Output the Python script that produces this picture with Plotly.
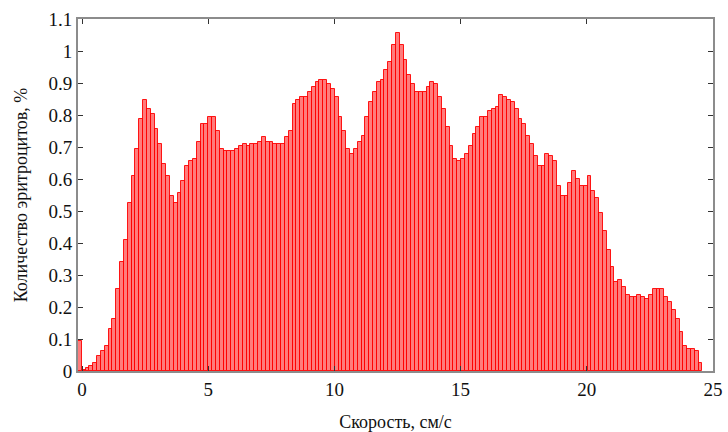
import numpy as np
import plotly.graph_objects as go

# Histogram of erythrocyte velocities: bin start, bin width and percentages per bin
BIN_START = -0.16
BIN_WIDTH = 0.1518
percent = [
    0.093, 0.004, 0.008, 0.016, 0.024, 0.046, 0.061, 0.078, 0.13, 0.163,
    0.255, 0.34, 0.408, 0.524, 0.609, 0.693, 0.787, 0.847, 0.819, 0.802,
    0.756, 0.709, 0.646, 0.609, 0.546, 0.524, 0.556, 0.595, 0.64, 0.656,
    0.664, 0.716, 0.773, 0.773, 0.795, 0.795, 0.749, 0.693, 0.687, 0.687,
    0.687, 0.693, 0.703, 0.709, 0.703, 0.709, 0.709, 0.716, 0.732, 0.716,
    0.716, 0.709, 0.709, 0.709, 0.732, 0.749, 0.834, 0.847, 0.856,
    0.856, 0.872, 0.888, 0.903, 0.909, 0.909, 0.897, 0.880, 0.856, 0.795,
    0.750, 0.694, 0.679, 0.694, 0.715, 0.733, 0.795, 0.841, 0.872, 0.903,
    0.909, 0.942, 0.965, 1.018, 1.057, 1.018, 0.972, 0.925,
    0.897, 0.872, 0.872, 0.872, 0.888, 0.903, 0.897, 0.856, 0.819, 0.762,
    0.703, 0.663, 0.655, 0.663, 0.678, 0.703, 0.740, 0.762, 0.795, 0.795,
    0.811, 0.819, 0.825, 0.863, 0.856, 0.847, 0.841, 0.819,
    0.787, 0.772, 0.733, 0.709, 0.671, 0.640, 0.640, 0.678, 0.671, 0.656,
    0.578, 0.546, 0.546, 0.586, 0.624, 0.601, 0.578, 0.578, 0.609, 0.563,
    0.540, 0.493, 0.439, 0.378, 0.324, 0.278, 0.284, 0.261, 0.239,
    0.232, 0.232, 0.239, 0.232, 0.224, 0.239, 0.255, 0.255, 0.255, 0.232,
    0.216, 0.192, 0.163, 0.123, 0.078, 0.070, 0.070, 0.062, 0.024,
]
x_ticks = [0, 5, 10, 15, 20, 25]
y_ticks = [round(0.1 * k, 1) for k in range(12)]
y_tick_text = ["0", "0.1", "0.2", "0.3", "0.4", "0.5", "0.6", "0.7", "0.8", "0.9", "1", "1.1"]

centers = BIN_START + (np.arange(len(percent)) + 0.5) * BIN_WIDTH

font = "Liberation Serif"

fig = go.Figure(
    go.Bar(
        x=centers,
        y=percent,
        width=BIN_WIDTH,
        marker=dict(color="rgba(255,30,30,0.58)",
                    line=dict(color="rgba(255,0,0,0.9)", width=1)),
        showlegend=False,
    )
)

axis_common = dict(
    showline=True, linecolor="#8c8c8c", linewidth=2, mirror="ticks",
    ticks="inside", ticklen=5, tickcolor="#333333", tickwidth=1,
    showgrid=False, zeroline=False, automargin=False,
    tickfont=dict(family=font, size=19, color="#111111"),
)

fig.update_layout(
    width=728, height=432,
    margin=dict(l=78, r=15, t=19, b=61),
    paper_bgcolor="white", plot_bgcolor="white",
    bargap=0,
    xaxis=dict(
        range=[-0.16, 25.0001], tickvals=x_ticks, ticktext=[str(v) for v in x_ticks],
        title=dict(text="Скорость, см/с", font=dict(family=font, size=18, color="#111111"), standoff=26),
        **axis_common,
    ),
    yaxis=dict(
        range=[0, 1.1], tickvals=y_ticks, ticktext=y_tick_text,
        title=dict(text="Количество эритроцитов, %", font=dict(family=font, size=18, color="#111111"), standoff=16),
        **axis_common,
    ),
)

fig.write_html("out.html")
